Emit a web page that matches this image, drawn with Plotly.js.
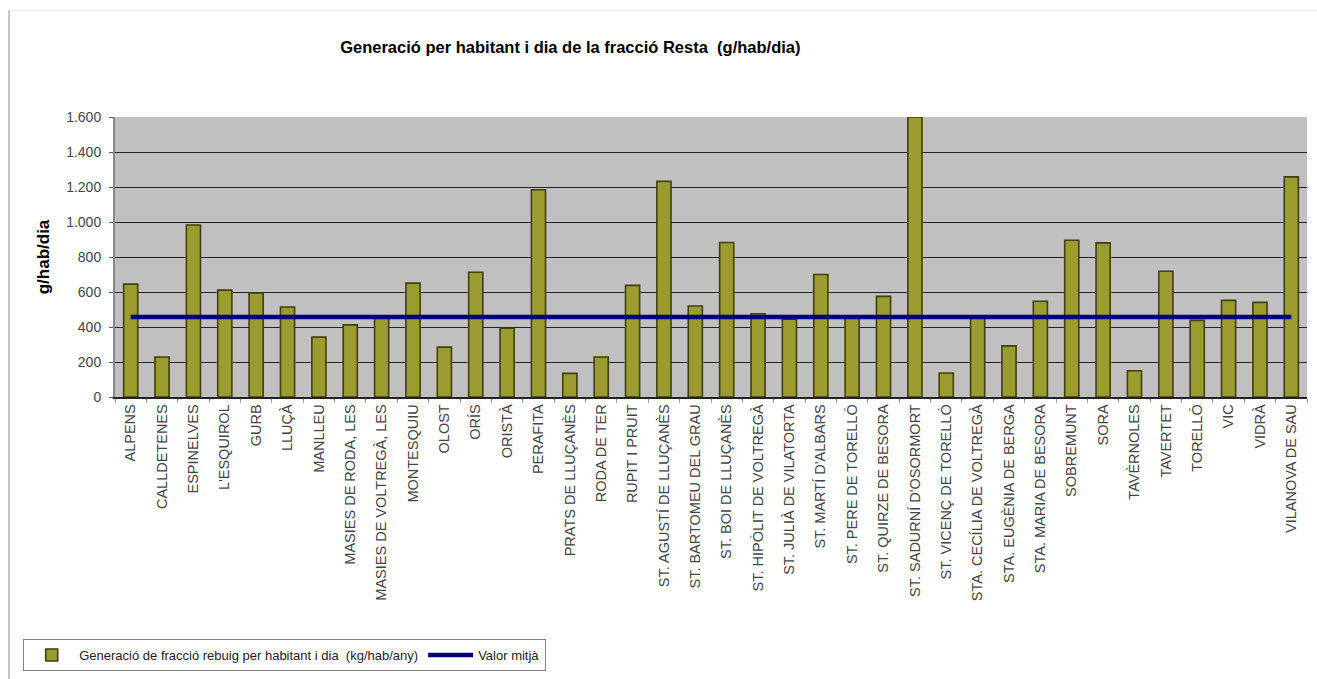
<!DOCTYPE html>
<html>
<head>
<meta charset="utf-8">
<script src="https://cdn.plot.ly/plotly-3.0.1.min.js"></script>
<style>
  html, body { margin: 0; padding: 0; background: #ffffff; }
  #wrap { position: relative; width: 1317px; height: 679px; }
  #frame { position: absolute; left: 8px; top: 10px; right: 0; bottom: 0;
           border-left: 2px solid #c4c4c4; border-top: 1px solid #efefef; pointer-events: none; z-index: 5; }
  #chart { width: 1317px; height: 679px; }
</style>
</head>
<body>
<div id="wrap">
  <div id="chart"></div>
  <div id="frame"></div>
</div>
<script>
const municipalities = [
  "ALPENS", "CALLDETENES", "ESPINELVES", "L'ESQUIROL", "GURB", "LLUÇÀ", "MANLLEU",
  "MASIES DE RODA, LES", "MASIES DE VOLTREGÀ, LES", "MONTESQUIU", "OLOST", "ORÍS", "ORISTÀ",
  "PERAFITA", "PRATS DE LLUÇANÈS", "RODA DE TER", "RUPIT I PRUIT", "ST. AGUSTÍ DE LLUÇANÈS",
  "ST. BARTOMEU DEL GRAU", "ST. BOI DE LLUÇANÈS", "ST. HIPÒLIT DE VOLTREGÀ", "ST. JULIÀ DE VILATORTA",
  "ST. MARTÍ D'ALBARS", "ST. PERE DE TORELLÓ", "ST. QUIRZE DE BESORA", "ST. SADURNÍ D'OSORMORT",
  "ST. VICENÇ DE TORELLÓ", "STA. CECÍLIA DE VOLTREGÀ", "STA. EUGÈNIA DE BERGA", "STA. MARIA DE BESORA",
  "SOBREMUNT", "SORA", "TAVÈRNOLES", "TAVERTET", "TORELLÓ", "VIC", "VIDRÀ", "VILANOVA DE SAU"
];
const generation = [
  645, 229, 983, 611, 594, 514, 342,
  412, 458, 651, 285, 713, 393,
  1184, 135, 229, 638, 1232,
  520, 883, 476, 444,
  700, 455, 575, 1600,
  137, 452, 292, 547,
  896, 881, 150, 719, 438, 552, 541, 1258
];
const meanValue = 457;
const meanSeries = municipalities.map(() => meanValue);

const yTicks = [0, 200, 400, 600, 800, 1000, 1200, 1400, 1600];

const traces = [
  {
    type: "bar",
    name: "Generació de fracció rebuig per habitant i dia  (kg/hab/any)",
    x: municipalities,
    y: generation,
    width: 0.45,
    marker: { color: "#9b9b30", line: { color: "#3f3f10", width: 1.6 } },
    hoverinfo: "x+y"
  },
  {
    type: "scatter",
    mode: "lines",
    name: "Valor mitjà",
    x: municipalities,
    y: meanSeries,
    line: { color: "#000080", width: 4.5 },
    hoverinfo: "y"
  }
];

const layout = {
  width: 1317,
  height: 679,
  margin: { l: 115, r: 10, t: 117, b: 281 },
  paper_bgcolor: "#ffffff",
  plot_bgcolor: "#c0c0c0",
  separators: ",.",
  font: { family: "Liberation Sans, Arial, sans-serif", color: "#333333" },
  title: {
    text: "Generació per habitant i dia de la fracció Resta  (g/hab/dia)",
    font: { family: "Liberation Sans, Arial, sans-serif", size: 16.5, color: "#000000", weight: "bold" },
    x: 0.382, xref: "paper", xanchor: "center",
    y: 0.931, yref: "container", yanchor: "middle"
  },
  xaxis: {
    type: "category",
    tickangle: -90,
    tickfont: { size: 14.5, color: "#444444" },
    ticks: "outside",
    tickson: "boundaries",
    ticklen: 4,
    tickcolor: "#999999",
    showline: true,
    linecolor: "#222222",
    linewidth: 1.5,
    showgrid: false,
    automargin: false,
    range: [-0.5, municipalities.length - 0.5]
  },
  yaxis: {
    range: [0, 1600],
    tickvals: yTicks,
    tickformat: ",d",
    tickfont: { size: 14, color: "#444444" },
    ticks: "outside",
    ticklen: 4,
    tickcolor: "#555555",
    ticklabelstandoff: 5,
    showgrid: true,
    gridcolor: "#222222",
    gridwidth: 1,
    zeroline: false,
    showline: true,
    linecolor: "#888888",
    linewidth: 2,
    automargin: false,
    title: {
      text: "g/hab/dia",
      font: { size: 17, color: "#000000", weight: "bold" },
      standoff: 12
    }
  },
  bargap: 0.5,
  showlegend: true,
  legend: {
    orientation: "h",
    x: -0.077, xanchor: "left",
    y: -0.858, yanchor: "top",
    bordercolor: "#808080",
    borderwidth: 1,
    bgcolor: "#ffffff",
    font: { size: 13, color: "#222222" },
    itemwidth: 45
  }
};

Plotly.newPlot("chart", traces, layout, { displayModeBar: false, staticPlot: true });
</script>
</body>
</html>
